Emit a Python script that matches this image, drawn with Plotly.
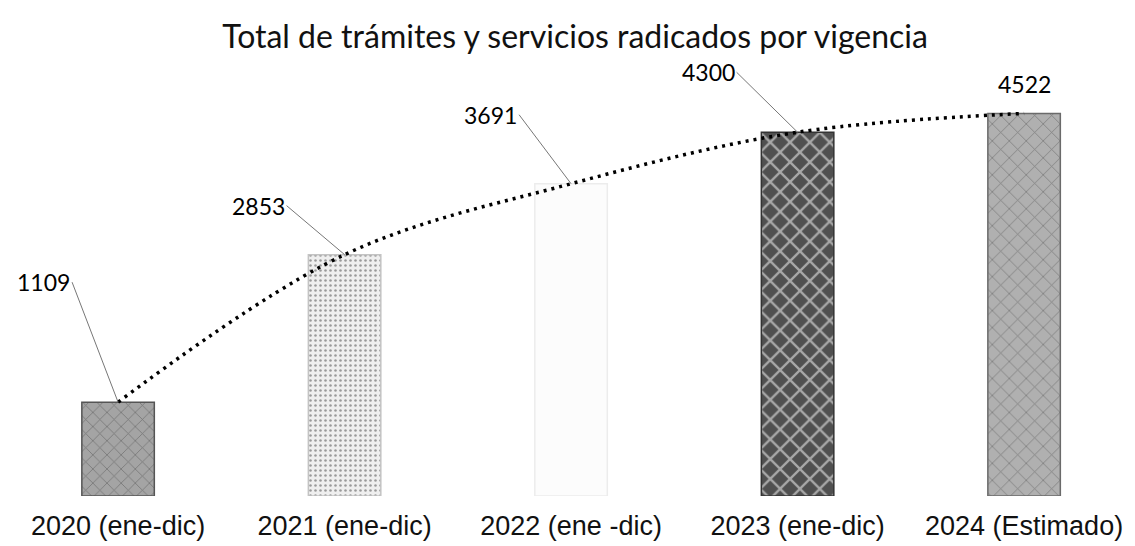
import plotly.graph_objects as go

categories = ["2020 (ene-dic)", "2021 (ene-dic)", "2022 (ene -dic)", "2023 (ene-dic)", "2024 (Estimado)"]
values = [1109, 2853, 3691, 4300, 4522]
bar_bg = ["#a4a4a4", "#efefef", "#fcfcfc", "#505050", "#b0b0b0"]
bar_fg = ["#ffffff", "#b8b8b8", "#e4e4e4", "#1a1a1a", "#ffffff"]
bar_shape = ["x", ".", "", "x", "x"]
bar_size = [10, 5, 14, 14, 12]
bar_solidity = [0.15, 0.2, 0.05, 0.3, 0.12]
edge_colors = ["#555555", "#c4c4c4", "#ececec", "#333333", "#6a6a6a"]
label_offsets = [(-46, -120), (-58, -49), (-52, -69), (-61, -60), (0, -29)]

fig = go.Figure()
fig.add_trace(go.Bar(
    x=list(range(len(categories))), y=values,
    marker=dict(color=bar_bg, line=dict(color=edge_colors, width=1.5),
                pattern=dict(shape=bar_shape, fgcolor=bar_fg,
                             size=bar_size, solidity=bar_solidity, fillmode="overlay")),
    width=0.32, hoverinfo="skip", showlegend=False,
))
fig.add_trace(go.Scatter(
    x=list(range(len(categories))), y=values, mode="lines",
    line=dict(color="black", width=3.5, dash="3px,5px", shape="spline", smoothing=1.0),
    hoverinfo="skip", showlegend=False,
))

for i, (v, (ax, ay)) in enumerate(zip(values, label_offsets)):
    last = i == len(values) - 1
    fig.add_annotation(
        x=i, y=v, text=str(v),
        showarrow=not last, arrowhead=0, arrowwidth=1, arrowcolor="#777777",
        ax=ax, ay=ay, yshift=0 if not last else 29,
        font=dict(family="Lato, Open Sans, sans-serif", size=23, color="#000000"),
        xanchor="right" if not last else "center",
        standoff=0,
    )

fig.update_layout(
    width=1135, height=546,
    margin=dict(l=0, r=0, t=65, b=58),
    paper_bgcolor="white", plot_bgcolor="white",
    title=dict(text="Total de trámites y servicios radicados por vigencia",
               x=0.4996, xanchor="center", y=0.947, yanchor="middle",
               font=dict(family="Lato, Open Sans, sans-serif", size=32, color="#111111")),
    xaxis=dict(range=[-0.486, 4.525], tickmode="array", tickvals=list(range(len(categories))),
               ticktext=categories, showgrid=False, zeroline=False, showline=False,
               ticks="", ticklabelstandoff=11,
               tickfont=dict(family="Liberation Sans, Arial, sans-serif", size=27, color="#111111")),
    yaxis=dict(range=[0, 5000], visible=False, showgrid=False),
)

fig.write_html("out.html")
